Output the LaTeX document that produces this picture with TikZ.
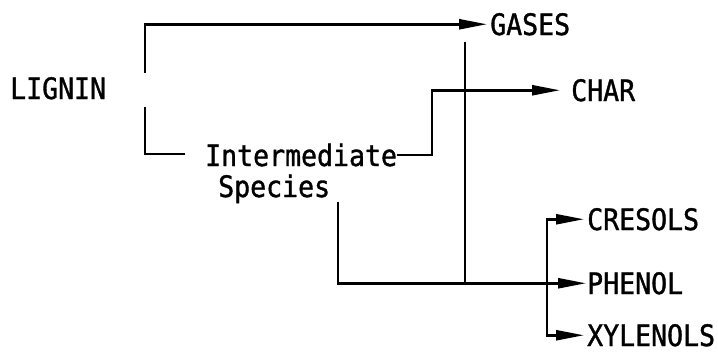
\documentclass[tikz,border=0pt]{standalone}
\usepackage{fontspec}
\usetikzlibrary{arrows.meta}
\newfontfamily\labfont{DejaVu Sans Mono}[FakeStretch=0.9,FakeBold=1.2]
\begin{document}
\begin{tikzpicture}[x=1pt,y=-1pt,
  lab/.style={font=\labfont\fontsize{29.5}{29.5}\selectfont, inner sep=0pt, anchor=base west},
  ln/.style={line width=2.5pt},
  arr/.style={ln,-{Triangle[length=28pt,width=10pt]}}]
\useasboundingbox (0,0) rectangle (718,359);
\node[lab] (lignin) at (10,99) {LIGNIN};
\node[lab] (gases) at (490,35) {GASES};
\node[lab] (char) at (571,101) {CHAR};
\node[lab] (inter) at (205,166) {Intermediate};
\node[lab] (species) at (218,197) {Species};
\node[lab] (cresols) at (587,230) {CRESOLS};
\node[lab] (phenol) at (587,294) {PHENOL};
\node[lab] (xylenols) at (587,346) {XYLENOLS};
\coordinate (lt) at (145,73);
\coordinate (lb) at (145,107);
\coordinate (ib) at (185,154);
\coordinate (icx) at (432,0);
\coordinate (gv) at (465,42);
\coordinate (sv) at (338,202);
\coordinate (bx) at (547,0);
\draw[arr, shorten >=3pt] (lt) |- (gases.west);
\draw[ln] (lb) |- (ib);
\draw[arr, shorten >=11pt] (inter.east) -- (inter.east -| icx) |- (char.west);
\draw[ln] (gv) -- (gv |- phenol.west);
\draw[arr, shorten >=1pt] (sv) |- (phenol.west);
\draw[arr, shorten >=3pt] (phenol.west -| bx) |- (cresols.west);
\draw[arr, shorten >=3pt] (phenol.west -| bx) |- (xylenols.west);
\end{tikzpicture}
\end{document}
